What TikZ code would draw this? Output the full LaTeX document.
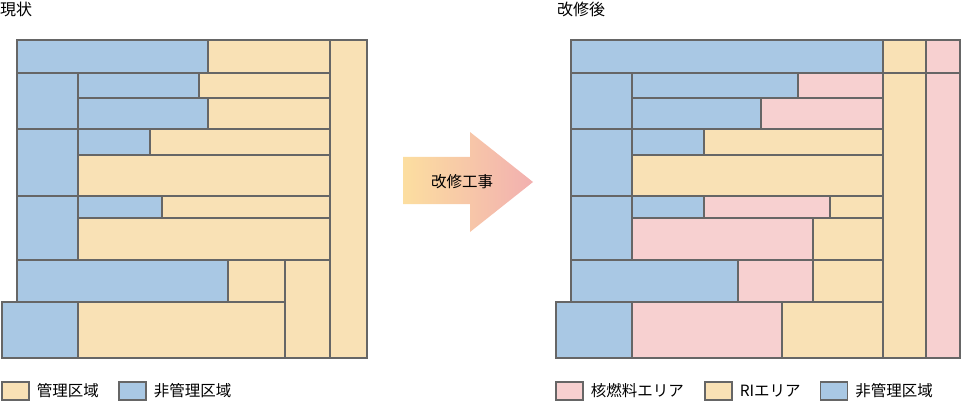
\documentclass[tikz,border=0pt]{standalone}
\usepackage{fontspec}
\setmainfont{Noto Sans CJK JP}
\usetikzlibrary{positioning}

\definecolor{blu}{HTML}{A9C8E4}
\definecolor{beige}{HTML}{F9E1B5}
\definecolor{rosa}{HTML}{F7D0D0}
\definecolor{bordo}{HTML}{666666}

\begin{document}
\begin{tikzpicture}[x=1pt, y=-1pt,
                % Stili delle aree (bordo grigio comune)
                area/.style={draw=bordo, line width=1.3pt},
                nonctrl/.style={area, fill=blu},
                riarea/.style={area, fill=beige},
                nucl/.style={area, fill=rosa},
                % Stile dei titoli e dei testi
                testo/.style={font=\fontsize{15.5}{18}\selectfont, inner sep=0pt},
                % Stile dei quadratini della legenda
                legbox/.style={area, minimum width=27pt, minimum height=18pt, inner sep=0pt}
            ]
                \useasboundingbox (0,0) rectangle (961,401);

                % 1. Titoli
                \node [testo, font=\fontsize{16}{18}\selectfont, anchor=west] (tprima) at (0,9) {現状};
                \node [testo, font=\fontsize{16}{18}\selectfont, anchor=west] (tdopo) at (557,9) {改修後};

                % 2. Pianta attuale: aree non controllate e aree controllate
                \foreach \xa/\ya/\xb/\yb in {17/40/208/73, 17/73/78/129, 78/73/199/98,
                        78/98/208/129, 17/129/78/196, 78/129/150/155, 17/196/78/260,
                        78/196/162/218, 17/260/228/302, 2/302/78/358}
                    \draw [nonctrl] (\xa,\ya) rectangle (\xb,\yb);
                \foreach \xa/\ya/\xb/\yb in {208/40/330/73, 330/40/367/358, 199/73/330/98,
                        208/98/330/129, 150/129/330/155, 78/155/330/196, 162/196/330/218,
                        78/218/330/260, 228/260/285/302, 285/260/330/358, 78/302/285/358}
                    \draw [riarea] (\xa,\ya) rectangle (\xb,\yb);

                % 3. Freccia centrale con sfumatura
                \shade [left color={rgb,255:red,252;green,222;blue,160},
                        right color={rgb,255:red,242;green,176;blue,176}]
                    (403,157) -- (470,157) -- (470,132) -- (533,182)
                    -- (470,232) -- (470,204) -- (403,204) -- cycle;
                \node [testo] (lavori) at (462,182) {改修工事};

                % 4. Pianta dopo i lavori
                \foreach \xa/\ya/\xb/\yb in {571/40/883/73, 571/73/632/129, 632/73/798/98,
                        632/98/761/129, 571/129/632/196, 632/129/704/155, 571/196/632/260,
                        632/196/704/218, 571/260/738/302, 556/302/632/358}
                    \draw [nonctrl] (\xa,\ya) rectangle (\xb,\yb);
                \foreach \xa/\ya/\xb/\yb in {883/40/926/73, 883/73/926/358, 704/129/883/155,
                        632/155/883/196, 830/196/883/218, 813/218/883/260,
                        813/260/883/302, 782/302/883/358}
                    \draw [riarea] (\xa,\ya) rectangle (\xb,\yb);
                \foreach \xa/\ya/\xb/\yb in {926/40/960/73, 926/73/960/358, 798/73/883/98,
                        761/98/883/129, 704/196/830/218, 632/218/813/260,
                        738/260/813/302, 632/302/782/358}
                    \draw [nucl] (\xa,\ya) rectangle (\xb,\yb);

                % 5. Legende
                \node [legbox, fill=beige] (lgctrl) at (15.5,391) {};
                \node [testo, right=7pt of lgctrl] (txctrl) {管理区域};
                \node [legbox, fill=blu] (lgnon) at (132.5,391) {};
                \node [testo, right=7pt of lgnon] (txnon) {非管理区域};

                \node [legbox, fill=rosa] (lgnucl) at (569.5,391) {};
                \node [testo, right=7pt of lgnucl] (txnucl) {核燃料エリア};
                \node [legbox, fill=beige] (lgri) at (718.5,391) {};
                \node [testo, right=7pt of lgri] (txri) {RIエリア};
                \node [legbox, fill=blu] (lgnon2) at (834,391) {};
                \node [testo, right=7pt of lgnon2] (txnon2) {非管理区域};

            \end{tikzpicture}
\end{document}
